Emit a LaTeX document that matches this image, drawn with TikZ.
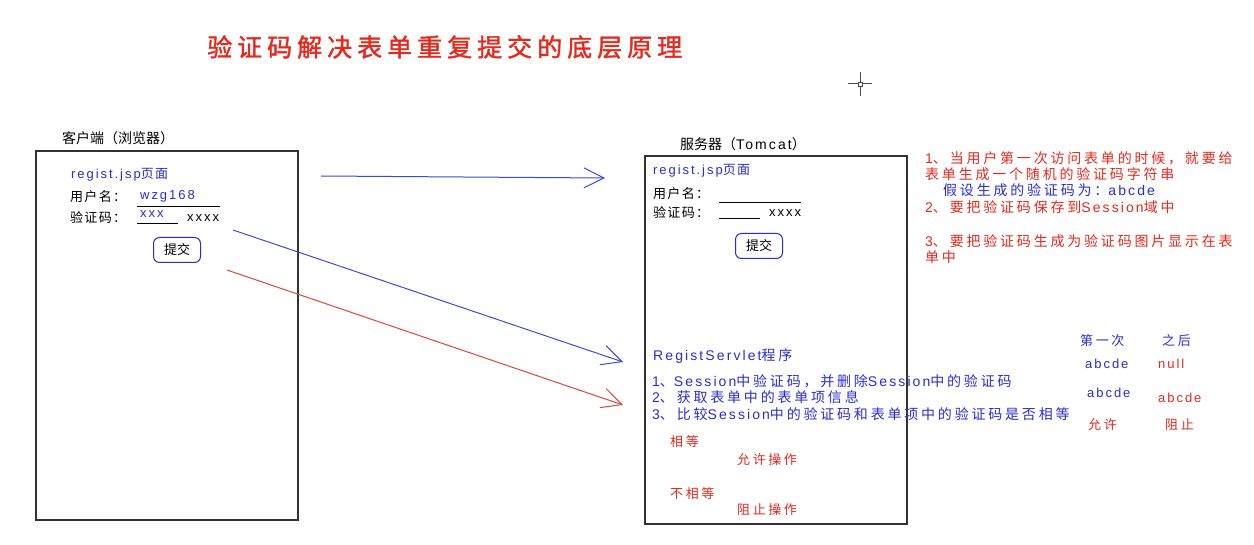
\documentclass[tikz,border=0pt]{standalone}
\usepackage{fontspec}
\setmainfont{Noto Sans CJK SC}
\newfontfamily\latf{Liberation Sans}[LetterSpace=15]
\newcommand\la[1]{{\latf #1}}
\usetikzlibrary{arrows.meta}
\definecolor{tblue}{RGB}{40,45,215}
\definecolor{tred}{RGB}{232,40,28}
\definecolor{ablue}{RGB}{60,75,215}
\definecolor{ared}{RGB}{228,70,50}
\definecolor{boxc}{RGB}{50,50,50}
\tikzset{
  txt/.style={anchor=west, inner sep=0pt, font=\fontsize{14}{16}\selectfont\addfontfeature{LetterSpace=20}},
  ftxt/.style={anchor=west, inner sep=0pt, font=\fontsize{13}{15}\selectfont\addfontfeature{LetterSpace=10}},
  stxt/.style={anchor=west, inner sep=0pt, font=\fontsize{13}{15}\selectfont\addfontfeature{LetterSpace=20}},
  btxt/.style={txt, text=tblue},
  rtxt/.style={txt, text=tred},
  bstxt/.style={stxt, text=tblue},
  rstxt/.style={stxt, text=tred},
  panel/.style={draw=boxc, line width=1.6pt},
  btn/.style={draw=tblue, line width=1pt, rounded corners=6pt, minimum width=47pt, minimum height=25pt, inner sep=0pt, font=\fontsize{13}{15}\selectfont},
  uline/.style={line width=0.8pt, black},
  barrow/.style={draw=ablue, line width=1pt, -{Straight Barb[length=20pt,width=20pt]}},
  rarrow/.style={draw=ared, line width=1pt, -{Straight Barb[length=20pt,width=20pt]}},
}
\begin{document}
\begin{tikzpicture}[x=1pt,y=-1pt]
\useasboundingbox[fill=white] (0,0) rectangle (1254,545);
% title
\node[anchor=west, inner sep=0pt, text=tred, font=\fontsize{25}{28}\selectfont\addfontfeature{LetterSpace=20,FakeBold=1.5}] (title) at (207,47) {验证码解决表单重复提交的底层原理};
% crosshair
\draw[line width=1pt, black!70] (860,72) -- (860,96) (848,84) -- (872,84);
\draw[line width=0.8pt, black!70, fill=white] (858,82) rectangle (862,86);
% client
\node[anchor=west, inner sep=0pt, font=\fontsize{14}{16}\selectfont] (clientlbl) at (62,138) {客户端（浏览器）};
\node[panel, minimum width=262pt, minimum height=369pt, anchor=north west, inner sep=0pt] (client) at (35,150) {};
\node[ftxt, text=tblue] (cjsp) at (71,175) {\la{regist.jsp}页面};
\node[ftxt] (cuser) at (70,197) {用户名：};
\node[ftxt, text=tblue] (cuserv) at (140,196) {\la{wzg168}};
\draw[uline] (137,206) -- (220,206);
\node[ftxt] (ccode) at (70,217) {验证码：};
\node[ftxt, text=tblue] (ccodev) at (140,214) {\la{xxx}};
\draw[uline] (137,223) -- (178,223);
\node[ftxt] (cimg) at (187,218) {\la{xxxx}};
\node[btn, anchor=north west] (cbtn) at (153,237) {提交};
% server
\node[anchor=west, inner sep=0pt, font=\fontsize{14}{16}\selectfont] (serverlbl) at (680,144) {服务器（\la{Tomcat}）};
\node[panel, minimum width=262pt, minimum height=368pt, anchor=north west, inner sep=0pt] (server) at (644,155) {};
\node[ftxt, text=tblue] (sjsp) at (653,171) {\la{regist.jsp}页面};
\node[ftxt] (suser) at (653,194) {用户名：};
\draw[uline] (719,202) -- (801,202);
\node[ftxt] (scode) at (653,212) {验证码：};
\draw[uline] (719,218) -- (760,218);
\node[ftxt] (simg) at (769,213) {\la{xxxx}};
\node[btn, anchor=north west] (sbtn) at (735,233) {提交};
\node[btxt] (servlet) at (653,356) {\la{RegistServlet}程序};
\node[btxt] (s1) at (652,381) {\la{1}、\la{Session}中验证码，并删除\la{Session}中的验证码};
\node[btxt] (s2) at (652,397) {\la{2}、获取表单中的表单项信息};
\node[btxt] (s3) at (652,414) {\la{3}、比较\la{Session}中的验证码和表单项中的验证码是否相等};
\node[rstxt] (eq) at (670,442) {相等};
\node[rstxt] (allow) at (737,460) {允许操作};
\node[rstxt] (neq) at (670,494) {不相等};
\node[rstxt] (block) at (737,510) {阻止操作};
% notes
\node[rtxt] (n1a) at (925,158) {\la{1}、当用户第一次访问表单的时候，就要给};
\node[rtxt] (n1b) at (925,174) {表单生成一个随机的验证码字符串};
\node[btxt] (n1c) at (943,190) {假设生成的验证码为：\la{abcde}};
\node[rtxt] (n2) at (925,207) {\la{2}、要把验证码保存到\la{Session}域中};
\node[rtxt] (n3a) at (925,241) {\la{3}、要把验证码生成为验证码图片显示在表};
\node[rtxt] (n3b) at (925,257) {单中};
% table
\node[bstxt] (h1) at (1080,341) {第一次};
\node[bstxt] (h2) at (1162,341) {之后};
\node[bstxt] (a1) at (1085,364) {\la{abcde}};
\node[rstxt] (b1) at (1158,364) {\la{null}};
\node[bstxt] (a2) at (1087,393) {\la{abcde}};
\node[rstxt] (b2) at (1158,398) {\la{abcde}};
\node[rstxt] (a3) at (1088,425) {允许};
\node[rstxt] (b3) at (1165,425) {阻止};
% arrows
\coordinate (r1s) at (321,176);
\coordinate (r1e) at (605,178);
\coordinate (r2s) at (233,230);
\coordinate (r2e) at (623,362);
\coordinate (r3s) at (227,270);
\coordinate (r3e) at (623,405);
\draw[barrow] (r1s) -- (r1e);
\draw[barrow] (r2s) -- (r2e);
\draw[rarrow] (r3s) -- (r3e);
\end{tikzpicture}
\end{document}
